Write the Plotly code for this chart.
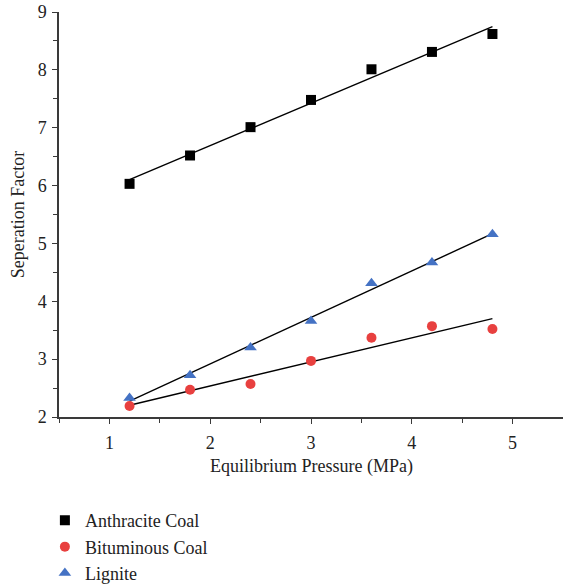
import numpy as np
import plotly.graph_objects as go

# Equilibrium pressure (MPa) and separation factor per coal type
pressure = [1.2, 1.8, 2.4, 3.0, 3.6, 4.2, 4.8]
anthracite = [6.03, 6.52, 7.01, 7.48, 8.01, 8.31, 8.62]
bituminous = [2.19, 2.47, 2.57, 2.97, 3.37, 3.57, 3.52]
lignite = [2.33, 2.72, 3.20, 3.66, 4.31, 4.67, 5.16]

series_names = ["Anthracite Coal", "Bituminous Coal", "Lignite"]
series_values = [anthracite, bituminous, lignite]
marker_symbols = ["square", "circle", "triangle-up"]
marker_colors = ["#000000", "#e8403f", "#4472c4"]
marker_sizes = [10, 10, 11]

x_ticks = [1, 2, 3, 4, 5]
y_ticks = [2, 3, 4, 5, 6, 7, 8, 9]

FONT = "Liberation Serif"

fig = go.Figure()

# Linear fit lines (no legend entries)
xp = np.array(pressure)
for vals in series_values:
    slope, intercept = np.polyfit(xp, np.array(vals), 1)
    xs = [xp.min(), xp.max()]
    fig.add_trace(go.Scatter(
        x=xs, y=[slope * v + intercept for v in xs], mode="lines",
        line=dict(color="#000000", width=1.4), showlegend=False,
        hoverinfo="skip"))

# Measured points
for name, vals, sym, col, sz in zip(series_names, series_values,
                                    marker_symbols, marker_colors, marker_sizes):
    fig.add_trace(go.Scatter(
        x=pressure, y=vals, mode="markers", name=name,
        marker=dict(symbol=sym, color=col, size=sz, line=dict(width=0))))

axis_common = dict(
    showgrid=False, zeroline=False, showline=True, linecolor="#3a3a3a",
    linewidth=1.5, ticks="outside", ticklen=5, tickwidth=1.3,
    tickcolor="#3a3a3a", tickfont=dict(family=FONT, size=18, color="#222222"),
    minor=dict(ticks="outside", ticklen=4, tickwidth=1.3, tickcolor="#3a3a3a",
               dtick=0.5))

fig.update_xaxes(range=[0.5, 5.5], tickvals=x_ticks, ticklabelstandoff=4,
                 **axis_common)
fig.update_yaxes(range=[2, 9], tickvals=y_ticks, ticklabelstandoff=2,
                 **axis_common)

fig.add_annotation(text="Equilibrium Pressure (MPa)", xref="paper", yref="paper",
                   x=0.5, y=-0.121, xanchor="center", yanchor="middle",
                   showarrow=False, font=dict(family=FONT, size=18, color="#222222"))
fig.add_annotation(text="Seperation Factor", xref="paper", yref="paper",
                   x=-0.082, y=0.5, xanchor="center", yanchor="middle",
                   textangle=-90, showarrow=False,
                   font=dict(family=FONT, size=18, color="#222222"))

fig.update_layout(
    width=563, height=587,
    margin=dict(l=59, r=0, t=12, b=170, autoexpand=False),
    plot_bgcolor="white", paper_bgcolor="white",
    legend=dict(x=-0.028, y=-0.21, xanchor="left", yanchor="top",
                font=dict(family=FONT, size=18, color="#222222"),
                tracegroupgap=0, itemsizing="trace"),
)

fig.write_html("out.html")
